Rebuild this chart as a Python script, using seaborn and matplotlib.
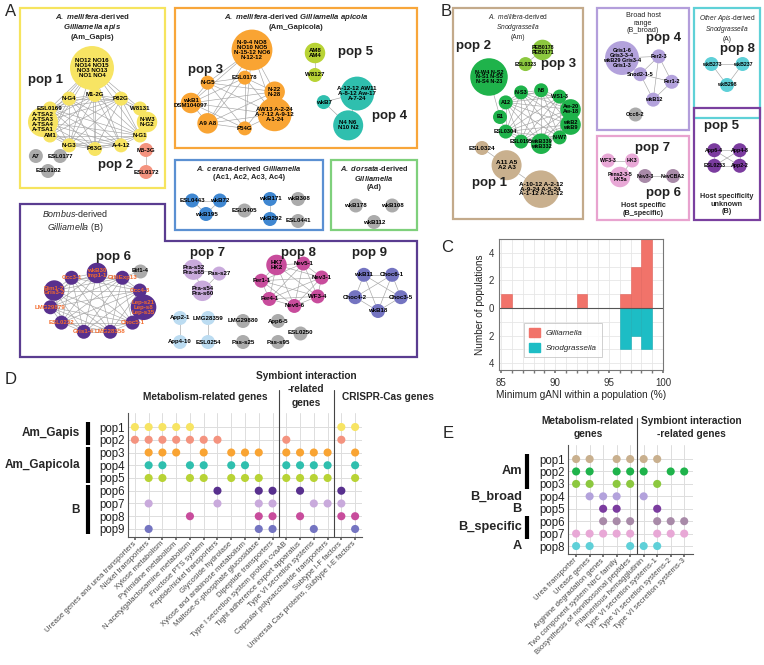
import itertools
import numpy as np
import pandas as pd
import matplotlib.pyplot as plt
import seaborn as sns
from matplotlib.patches import Rectangle, Polygon, Patch

sns.set_theme(style="whitegrid")
plt.rcParams["font.family"] = ["Liberation Sans", "DejaVu Sans"]
plt.rcParams["mathtext.fontset"] = "custom"
plt.rcParams["mathtext.rm"] = "Liberation Sans"
plt.rcParams["mathtext.it"] = "Liberation Sans:italic"
plt.rcParams["mathtext.bf"] = "Liberation Sans:bold"
if "mathtext.bfit" in plt.rcParams:
    plt.rcParams["mathtext.bfit"] = "Liberation Sans:italic:bold"
    BFIT = r"\mathbfit"
else:
    BFIT = r"\mathit"


def clique(idx):
    return list(itertools.combinations(idx, 2))


# ---------------- data: networks (one string per node, strains split by blanks)
gapis_pop1 = ["NO12 NO16\nNO14 NO15\nNO3 NO13\nNO1 NO4", "A-TSA2\nA-TSA3\nA-TSA4\nA-TSA1",
              "AM1", "N-G3", "P83G", "A-4-12", "N-G1", "N-W3\nN-G2", "W8131", "P82G",
              "M1-2G", "N-G4", "ESL0169"]
gapis_pop1_edges = clique([0, 1, 2, 3, 4, 5, 6, 9, 10, 11, 12]) + [(7, 8), (8, 9), (8, 10), (7, 9), (7, 6), (8, 0)]
gapis_pop2 = ["M5-3G", "ESL0172"]
gapis_other = ["A7", "ESL0182", "ESL0177"]

gapicola_pop3 = ["N-9-4 NO8\nNO10 NO5\nN-15-12 NO6\nN-12-12", "wkB1\nDSM104097", "A9 A8", "P54G",
                 "AW13 A-2-24\nA-7-12 A-9-12\nA-1-24", "N-22\nN-28", "ESL0178", "N-G5"]
gapicola_pop5 = ["AM8\nAM4", "W8127"]
gapicola_pop4 = ["A-12-12 AW11\nA-8-12 Aw-17\nA-7-24", "wkB7", "N4 N6\nN10 N2"]

ac_blue1 = ["ESL0443", "wkB195", "wkB72"]
ac_blue2 = ["wkB171", "wkB292"]
ac_other1 = ["ESL0405"]
ac_other2 = ["wkB308", "ESL0441"]
ad_other = ["wkB178", "wkB112", "wkB108"]

b_pop6 = ["wkB30\nImp1-1", "Occ3-1", "Bim1-2\nGris3-2", "LMG29879", "ESL0232", "Gris1-4",
          "LMG28358", "Choc5-1", "Lep-s21\nLep-s8\nLep-s35", "Occ4-3", "GilliExp13"]
b_pop6_edges = clique([0, 1, 2, 3, 4, 5, 6, 7, 9, 10]) + [(8, 7), (8, 9)]
b_bif = ["Bif1-4"]
b_pop7 = ["Pra-s52\nPra-s65", "Pra-s54\nPra-s60", "Pas-s27"]
b_pop8 = ["HK7\nHK2", "Fer1-1", "Fer4-1", "Nev6-6", "WF3-4", "Nev3-1", "Nev5-1"]
b_pop9 = ["wkB11", "Choc4-2", "wkB18", "Choc3-5", "Choc6-1"]
b_app = ["App2-1", "App4-10"]
b_lmg = ["LMG28359", "ESL0254"]
b_other = ["LMG29880", "App6-5", "Pas-s25", "Pas-s95"]
b_other2 = ["ESL0250"]

am_pop2 = ["N-W4 N-S2\nN-S1 N-S5\nN-S4 N-23", "B1", "ESL0304", "ESL0195", "wkB339\nwkB332",
           "N-W7", "wkB2\nwkB9", "Aw-20\nAw-18", "WS1-3", "N8", "N-S3", "A12"]
am_pop2_edges = [(0, 1), (1, 11), (1, 2)] + clique(range(2, 12))
am_pop3 = ["PEB0178\nPEB0171", "ESL0323"]
am_pop1 = ["ESL0324", "A11 A5\nA2 A3", "A-10-12 A-2-12\nA-9-24 A-5-24\nA-1-12 A-11-12"]
broad_pop4 = ["Gris1-6\nGris3-3-4\nwkB29 Gris3-4\nGris1-3", "Fer2-3", "Snod2-1-5", "wkB12", "Fer1-2"]
broad_pop4_edges = [(0, 1), (0, 2), (1, 2), (1, 3), (1, 4), (2, 3), (2, 4), (3, 4)]
broad_other = ["Occ6-2"]
apis_pop8 = ["wkB273", "wkB298", "wkB237"]
spec_pop7 = ["WF3-3", "Pens2-3-5\nHK5a", "HK3"]
spec_pop6 = ["Nev3-3", "NevCBA2"]
unk_pop5 = ["App6-4", "ESL0253", "App2-2", "App4-8"]

# ---------------- data: panel C (populations per 1% bin of minimum gANI)
gani_bins = [85, 86, 87, 88, 89, 90, 91, 92, 93, 94, 95, 96, 97, 98, 99]
gilliamella_counts = [1, 0, 0, 0, 0, 0, 0, 1, 0, 0, 0, 1, 3, 5, 0]
snodgrassella_counts = [0, 0, 0, 0, 0, 0, 0, 0, 0, 0, 0, 3, 2, 3, 0]

# ---------------- data: panel D
d_genes = ["Urease genes and urea transporters", "Nickel transporters", "Xylose metabolism",
           "Pyrimidine metabolism", "N-acetylgalactosamine metabolism", "Fructose PTS system",
           "Peptide/nickel transporters", "Glycoside hydrolase", "Xylose and arabinose metabolism",
           "Maltose-6'-phosphate glucosidase", "Dipeptide transporters",
           "Type I secretion system protein cvaAB", "Tight adherence export apparatus",
           "Type VI secretion systems", "Capsular polysaccharide transporters",
           "Subtype I-F factors", "Universal Cas proteins, Subtype I-E factors"]
d_pops = ["pop1", "pop2", "pop3", "pop4", "pop5", "pop6", "pop7", "pop8", "pop9"]
d_presence = [[1, 2, 3, 4, 5, 16, 17],
              [1, 2, 3, 4, 5, 6, 7, 12, 16],
              [2, 3, 4, 6, 8, 9, 10, 12, 13, 14, 15, 17],
              [2, 3, 5, 6, 8, 9, 12, 13, 14, 15, 17],
              [2, 3, 5, 6, 8, 9, 10, 12, 13, 14, 15, 17],
              [7, 10, 11, 13, 16],
              [2, 7, 10, 11, 14, 15, 16],
              [5, 10, 11, 13, 16, 17],
              [2, 10, 11, 14, 17]]
d_colors = ["#f7e463", "#f4937f", "#f9a433", "#2fbfae", "#b8d335", "#58308e", "#c9aadc", "#c84c9c", "#7474c1"]
d_groups = [("Am_Gapis", 0, 1), ("Am_Gapicola", 2, 4), ("B", 5, 8)]
d_sections = ["Metabolism-related genes", "Symbiont interaction\n-related\ngenes", "CRISPR-Cas genes"]

# ---------------- data: panel E
e_genes = ["Urea transporter", "Urease genes", "Arginine degradation genes",
           "Two component system NtrC family", "Biosynthesis of nonribosomal peptides",
           "Filamentous hemagglutinin", "Type VI secretion systems-1",
           "Type VI secretion systems-2", "Type VI secretion systems-3"]
e_pops = ["pop1", "pop2", "pop3", "pop4", "pop5", "pop6", "pop7", "pop8"]
e_presence = [[1, 2, 4, 5, 6, 7],
              [1, 2, 4, 5, 6, 8, 9],
              [1, 2, 4, 5, 7],
              [2, 3, 4, 6],
              [3, 4, 7],
              [3, 4, 5, 7, 8, 9],
              [1, 2, 3, 4, 5, 7, 8, 9],
              [1, 2, 5, 6, 7]]
e_colors = ["#c9b08e", "#1fb34b", "#8cc83f", "#b3a2dc", "#7b3c9f", "#a88aa8", "#e8a8d6", "#5fd0d8"]
e_groups = [("Am", 0, 2), ("B_broad", 3, 3), ("B", 4, 4), ("B_specific", 5, 6), ("A", 7, 7)]
e_sections = ["Metabolism-related\ngenes", "Symbiont interaction\n-related genes"]

GILLI = "#f1736a"
SNOD = "#1dbdc5"
GRAY = "#ababab"
EDGE = "#a5a5a5"


def bi(s):
    return "$" + BFIT + "{" + s.replace(" ", r"\ ") + "}$"


def it(s):
    return r"$\mathit{" + s.replace(" ", r"\ ") + "}$"


def radii(labels):
    return 7.0 * np.array([len(l.split()) for l in labels]) ** 0.55


def ring(n, cx, cy, rx=0, ry=0, start=90.0, hub=None):
    if hub is not None:
        pts = ring(n - 1, cx, cy, rx, ry, start)
        return np.vstack([[cx + hub[0], cy + hub[1]], pts])
    if n == 1:
        return np.array([[cx, cy]], dtype=float)
    a = np.deg2rad(start + 360.0 * np.arange(n) / n)
    return np.column_stack([cx + rx * np.cos(a), cy - ry * np.sin(a)])


def grid(n, x0, y0, dx, dy, ncol):
    k = np.arange(n)
    return np.column_stack([x0 + dx * (k % ncol), y0 + dy * (k // ncol)])


def chain(labels, x0, y0, angle, gap):
    r = radii(labels)
    d = np.concatenate([[0], np.cumsum(r[:-1] + r[1:] + gap)])
    a = np.deg2rad(angle)
    return np.column_stack([x0 + d * np.cos(a), y0 + d * np.sin(a)])


fig = plt.figure(figsize=(7.64, 6.65), dpi=100)
ax = fig.add_axes([0, 0, 1, 1])
ax.set_xlim(0, 764)
ax.set_ylim(665, 0)
ax.axis("off")


def draw_net(labels, edges, xy, color, fs=4.4, tcolor="black"):
    r = radii(labels)
    for i, j in edges:
        ax.plot([xy[i, 0], xy[j, 0]], [xy[i, 1], xy[j, 1]], color=EDGE, lw=0.45, zorder=1)
    ax.scatter(xy[:, 0], xy[:, 1], s=(1.44 * r) ** 2, color=color, lw=0, zorder=2)
    for (x, y), lab in zip(xy, labels):
        ax.text(x, y, lab, ha="center", va="center", fontsize=fs, fontweight="bold",
                color=tcolor, linespacing=0.95, zorder=3)
    return xy


def box(x0, y0, x1, y1, color):
    ax.add_patch(Rectangle((x0, y0), x1 - x0, y1 - y0, fill=False, ec=color, lw=1.6, zorder=0))


def pop_label(x, y, s):
    ax.text(x, y, s, ha="center", va="center", fontsize=9.5, fontweight="bold", color="#222222")


# ---------------- panel A boxes
box(20, 8, 165, 188, "#f6e45e")
box(175, 8, 417, 148, "#f8a63a")
box(175, 160, 323, 230, "#5b90d2")
box(331, 160, 417, 230, "#7fd07c")
ax.add_patch(Polygon([(20, 204), (165, 204), (165, 241), (417, 241), (417, 357), (20, 357)],
                     closed=True, fill=False, ec="#5a3c90", lw=1.6, zorder=0))

ax.text(92, 12, bi("A. mellifera") + "-derived\n" + bi("Gilliamella apis") + "\n(Am_Gapis)",
        ha="center", va="top", fontsize=5.6, fontweight="bold", linespacing=1.15)
ax.text(296, 12, bi("A. mellifera") + "-derived " + bi("Gilliamella apicola") + "\n(Am_Gapicola)",
        ha="center", va="top", fontsize=5.6, fontweight="bold", linespacing=1.15)
ax.text(249, 164, bi("A. cerana") + "-derived " + bi("Gilliamella") + "\n(Ac1, Ac2, Ac3, Ac4)",
        ha="center", va="top", fontsize=5.4, fontweight="bold", linespacing=1.15)
ax.text(374, 164, bi("A. dorsata") + "-derived\n" + bi("Gilliamella") + "\n(Ad)",
        ha="center", va="top", fontsize=5.4, fontweight="bold", linespacing=1.2)
ax.text(75, 208, it("Bombus") + "-derived\n" + it("Gilliamella") + " (B)",
        ha="center", va="top", fontsize=6.4, linespacing=1.2)

draw_net(gapis_pop1, gapis_pop1_edges, ring(13, 95, 122, 52, 27, 180, hub=(-3, -54)), "#f7e463")
draw_net(gapis_pop2, [(0, 1)], ring(2, 146, 161, 0, 11), "#f4937f")
draw_net(gapis_other, [], ring(3, 48, 161, 14, 10, 150), GRAY)
pop_label(46, 80, "pop 1")
pop_label(116, 165, "pop 2")

draw_net(gapicola_pop3, clique(range(8)), ring(8, 235, 103, 44, 26, 180, hub=(17, -53)), "#f9a433")
draw_net(gapicola_pop5, [(0, 1)], ring(2, 315, 64, 0, 11), "#b8d335")
draw_net(gapicola_pop4, clique(range(3)), ring(3, 343, 107, 20, 19, 45), "#2fbfae")
pop_label(206, 70, "pop 3")
pop_label(356, 52, "pop 5")
pop_label(390, 116, "pop 4")

draw_net(ac_blue1, clique(range(3)), ring(3, 206, 205, 16, 9, 150), "#3f87d1")
draw_net(ac_blue2, [(0, 1)], ring(2, 270, 209, 0, 10), "#3f87d1")
draw_net(ac_other1, [], ring(1, 244, 210), GRAY)
draw_net(ac_other2, [], ring(2, 298, 210, 0, 11), GRAY)
draw_net(ad_other, [], ring(3, 374, 211, 21, 11, 150), GRAY)

p6 = draw_net(b_pop6, b_pop6_edges, ring(11, 97, 303, 47, 30, 90), "#58308e", tcolor="#f36b2c")
bif = ring(1, 140, 271)
ax.plot([bif[0, 0], p6[10, 0]], [bif[0, 1], p6[10, 1]], color=EDGE, lw=0.45, zorder=1)
draw_net(b_bif, [], bif, GRAY)
draw_net(b_pop7, clique(range(3)), ring(3, 205, 278, 15, 13, 140), "#c9aadc")
draw_net(b_pop8, clique(range(7)), ring(7, 292, 284, 31, 22, 120), "#c84c9c")
draw_net(b_pop9, clique(range(5)), ring(5, 378, 291, 24, 20, 126), "#7474c1")
draw_net(b_app, [(0, 1)], ring(2, 180, 330, 0, 12), "#bcdcf1")
draw_net(b_lmg, [(0, 1)], ring(2, 208, 330, 0, 12), "#bcdcf1")
draw_net(b_other, [], grid(4, 243, 321, 35, 21, 2), GRAY)
draw_net(b_other2, [], ring(1, 300, 333), GRAY)
pop_label(113, 257, "pop 6")
pop_label(208, 253, "pop 7")
pop_label(298, 253, "pop 8")
pop_label(370, 253, "pop 9")

# ---------------- panel B boxes
box(453, 8, 583, 219, "#c3aa8b")
box(597, 8, 689, 130, "#b39edb")
box(694, 8, 760, 118, "#5fd1d7")
box(597, 136, 689, 220, "#e8a3cf")
box(694, 108, 760, 220, "#7a409f")

ax.text(518, 12, it("A. mellifera") + "-derived\n" + it("Snodgrassella") + "\n(Am)",
        ha="center", va="top", fontsize=4.8, linespacing=1.15)
ax.text(643, 12, "Broad host\nrange\n(B_broad)", ha="center", va="top", fontsize=5.2, linespacing=1.15)
ax.text(727, 13, it("Other Apis") + "-derived\n" + it("Snodgrassella") + "\n(A)",
        ha="center", va="top", fontsize=4.8, linespacing=1.05)
ax.text(643, 202, "Host specific\n(B_specific)", ha="center", va="top", fontsize=5.2,
        fontweight="bold", linespacing=1.15)
ax.text(727, 193, "Host specificity\nunknown\n(B)", ha="center", va="top", fontsize=5.2,
        fontweight="bold", linespacing=1.1)

draw_net(am_pop2, am_pop2_edges, ring(12, 536, 117, 36, 27, 180, hub=(-47, -40)), "#1fb34b", fs=4.0)
draw_net(am_pop3, [(0, 1)], ring(2, 534, 57, 12, 10, 45), "#8cc83f", fs=3.8)
draw_net(am_pop1, [(0, 1), (1, 2)], chain(am_pop1, 482, 148, 35, 8), "#c9b08e", fs=4.6)
pop_label(473, 46, "pop 2")
pop_label(559, 64, "pop 3")
pop_label(490, 183, "pop 1")

draw_net(broad_pop4, broad_pop4_edges, ring(5, 656, 78, 16, 22, 80, hub=(-34, -20)), "#b3a2dc", fs=4.0)
draw_net(broad_other, [], ring(1, 635, 114), GRAY, fs=4.0)
draw_net(apis_pop8, clique(range(3)), ring(3, 727, 71, 18, 14, 150), "#5fd0d8", fs=3.8)
draw_net(spec_pop7, [(0, 2), (1, 2)], ring(3, 620, 166, 14, 11, 150), "#e8a8d6", fs=3.8)
draw_net(spec_pop6, [(0, 1)], ring(2, 659, 176, 14, 0, 180), "#a88aa8", fs=3.8)
draw_net(unk_pop5, clique(range(4)), ring(4, 727, 158, 18, 11, 135), "#7b3c9f", fs=3.8)
pop_label(664, 38, "pop 4")
pop_label(737, 49, "pop 8")
pop_label(653, 148, "pop 7")
pop_label(663, 193, "pop 6")
pop_label(722, 126, "pop 5")

for x, y, s in [(5, 12, "A"), (441, 12, "B"), (441, 248, "C"), (5, 380, "D"), (443, 434, "E")]:
    ax.text(x, y, s, ha="left", va="center", fontsize=12)

# ---------------- panel C
axc = fig.add_axes([499 / 764, 1 - 370 / 665, 164 / 764, 131 / 665])
axc.bar(gani_bins, gilliamella_counts, width=1, align="edge", color=GILLI, ec="#e4645c", lw=0.4)
axc.bar(gani_bins, [-c for c in snodgrassella_counts], width=1, align="edge", color=SNOD,
        ec="#18adb4", lw=0.4)
axc.axhline(0, color="#555555", lw=0.8)
axc.set_xlim(84.8, 100)
axc.set_ylim(-4.5, 5)
axc.set_xticks([85, 90, 95, 100])
axc.set_xticks(range(85, 100), minor=True)
axc.set_yticks([-4, -2, 0, 2, 4])
axc.set_yticks([-3, -1, 1, 3], minor=True)
axc.set_yticklabels(["4", "2", "0", "2", "4"])
axc.grid(which="both", color="#e6e6e6", lw=0.6)
axc.set_axisbelow(True)
axc.tick_params(labelsize=7, colors="#333333", length=0)
axc.tick_params(axis="x", which="both", bottom=True, length=2, color="#777777")
for sp in axc.spines.values():
    sp.set_color("#777777")
    sp.set_linewidth(0.8)
axc.set_ylabel("Number of populations", fontsize=7.2, color="#222222", labelpad=3)
axc.set_xlabel("Minimum gANI within a population (%)", fontsize=7.2, color="#222222", labelpad=2)
leg = axc.legend(handles=[Patch(color=GILLI, label="Gilliamella"), Patch(color=SNOD, label="Snodgrassella")],
                 loc="lower left", bbox_to_anchor=(0.13, 0.07), prop={"style": "italic", "size": 5.8},
                 frameon=True, fancybox=False, edgecolor="#bbbbbb", handlelength=1.3, handleheight=1.3,
                 borderpad=0.6, labelspacing=0.7)
leg.get_frame().set_linewidth(0.6)


# ---------------- dot matrices D and E
def dot_panel(rect, genes, pops, presence, colors, groups, xlim, ylim, text_x, bar_x, gfs):
    a = fig.add_axes(rect)
    rows = [(g - 1, i, pops[i]) for i, gs in enumerate(presence) for g in gs]
    df = pd.DataFrame(rows, columns=["gene", "row", "pop"])
    sns.scatterplot(data=df, x="gene", y="row", hue="pop", palette=dict(zip(pops, colors)),
                    s=34, edgecolor="none", legend=False, ax=a, zorder=3)
    a.set_xlim(*xlim)
    a.set_ylim(*ylim)
    a.set_xticks(range(len(genes)))
    a.set_xticklabels(genes, rotation=45, ha="right", va="center", rotation_mode="anchor",
                      fontsize=5.6, color="#4a4a4a")
    a.set_yticks(range(len(pops)))
    a.set_yticklabels(pops, fontsize=8.3, color="#222222")
    a.set_xlabel("")
    a.set_ylabel("")
    a.grid(color="#dddddd", lw=0.7)
    a.tick_params(axis="x", length=2, pad=2, color="#666666", bottom=True)
    a.tick_params(axis="y", length=0, pad=2)
    for k in ["top", "right"]:
        a.spines[k].set_visible(False)
    for k in ["left", "bottom"]:
        a.spines[k].set_color("#555555")
        a.spines[k].set_linewidth(0.8)
    tr = a.get_yaxis_transform()
    for name, r0, r1 in groups:
        a.text(text_x, (r0 + r1) / 2, name, transform=tr, ha="right", va="center",
               fontsize=gfs, fontweight="bold")
        if r1 > r0:
            a.plot([bar_x, bar_x], [r0 - 0.42, r1 + 0.42], transform=tr, color="black", lw=3,
                   clip_on=False, solid_capstyle="butt")
    return a


def header(a, s, xa, yc, step, fs=7.3):
    # one text per line, so that each line keeps its own tight box
    lines = s.split("\n")
    top = yc + step * (len(lines) - 1) / 2
    for k, line in enumerate(lines):
        a.text(xa, top - k * step, line, transform=a.transAxes, ha="center", va="center",
               fontsize=fs, fontweight="bold")


axd = dot_panel([128 / 764, 1 - 537 / 665, 234 / 764, 124 / 665], d_genes, d_pops, d_presence,
                d_colors, d_groups, (-0.5, 16.5), (8.63, -1.1), -0.205, -0.171, 8.5)
for xv in [10.5, 14.5]:
    axd.axvline(xv, ymin=0, ymax=1.185, color="#444444", lw=0.8, clip_on=False)
for s, xa, ya in zip(d_sections, [0.329, 0.761, 1.111], [1.129, 1.19, 1.129]):
    header(axd, s, xa, ya, 0.107)

axe = dot_panel([568 / 764, 1 - 554 / 665, 125 / 764, 109 / 665], e_genes, e_pops, e_presence,
                e_colors, e_groups, (-0.6, 8.65), (7.64, -1.13), -0.37, -0.33, 9.2)
axe.axvline(4.5, ymin=0, ymax=1.25, color="#444444", lw=0.8, clip_on=False)
for s, xa in zip(e_sections, [0.16, 0.99]):
    header(axe, s, xa, 1.16, 0.12)

fig.savefig("out.png", dpi=100)
